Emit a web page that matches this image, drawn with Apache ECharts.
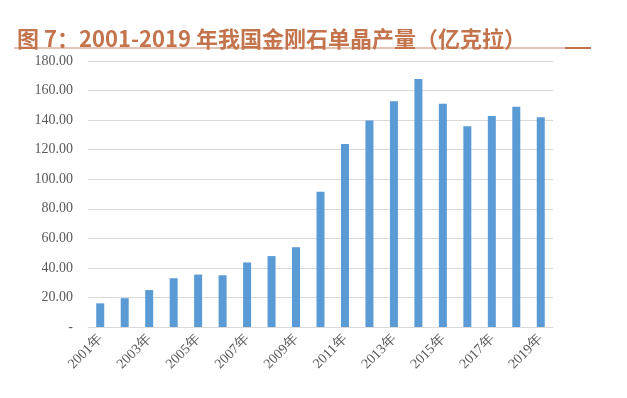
<!DOCTYPE html>
<html>
<head>
<meta charset="utf-8">
<script src="https://cdn.jsdelivr.net/npm/echarts@6/dist/echarts.min.js"></script>
<style>
  html, body { margin: 0; padding: 0; background: #fff; }
  #chart { width: 627px; height: 398px; }
</style>
</head>
<body>
<div id="chart"></div>
<script>
  // 2001-2019 年我国金刚石单晶产量（亿克拉）
  const years = ['2001年', '2002年', '2003年', '2004年', '2005年', '2006年', '2007年', '2008年', '2009年', '2010年',
    '2011年', '2012年', '2013年', '2014年', '2015年', '2016年', '2017年', '2018年', '2019年']
  const output = [16, 19.5, 25, 33, 35.5, 35, 43.7, 48, 54, 91.5,
    123.8, 139.7, 152.8, 167.8, 151, 135.8, 142.7, 149, 142]

  const titleColor = '#C4744C'
  const axisFont = '"Liberation Serif", "DejaVu Serif", serif'

  const chart = echarts.init(document.getElementById('chart'))
  const option = {
    animation: false,
    title: {
      text: '图 7：2001-2019 年我国金刚石单晶产量（亿克拉）',
      left: 12,
      top: 23,
      textStyle: {
        color: titleColor,
        fontSize: 22,
        fontWeight: 'bold',
        fontFamily: '"Noto Sans CJK SC", sans-serif'
      }
    },
    graphic: [
      {
        type: 'line',
        shape: { x1: 14, y1: 48, x2: 591, y2: 48 },
        style: { stroke: '#C98A6A', lineWidth: 1.2 }
      },
      {
        type: 'line',
        shape: { x1: 565, y1: 48, x2: 591, y2: 48 },
        style: { stroke: titleColor, lineWidth: 2 }
      }
    ],
    grid: {
      left: 88,
      right: 74,
      top: 61,
      bottom: 71
    },
    xAxis: {
      type: 'category',
      data: years,
      axisTick: { show: false },
      axisLine: { lineStyle: { color: '#D9D9D9' } },
      axisLabel: {
        interval: 1,
        rotate: 45,
        margin: 10,
        color: '#595959',
        fontSize: 14,
        fontFamily: axisFont
      }
    },
    yAxis: {
      type: 'value',
      min: 0,
      max: 180,
      interval: 20,
      axisLine: { show: false },
      axisTick: { show: false },
      splitLine: { lineStyle: { color: '#D9D9D9' } },
      axisLabel: {
        margin: 15,
        color: '#595959',
        fontSize: 14,
        fontFamily: axisFont,
        formatter: (v) => v === 0 ? '-' : v.toFixed(2)
      }
    },
    series: [
      {
        type: 'bar',
        data: output,
        barWidth: 8,
        itemStyle: { color: '#5B9BD5' }
      }
    ]
  }
  chart.setOption(option)
</script>
</body>
</html>
